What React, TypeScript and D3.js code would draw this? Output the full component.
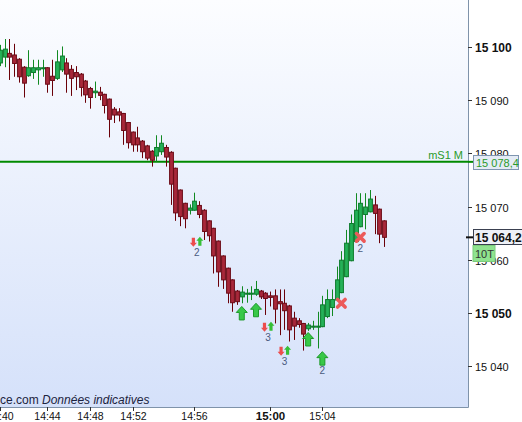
import React from 'react';
import * as d3 from 'd3';

// candle data, one entry per bar (10 ticks each)
const opens = [
  15097.0, 15098.1, 15098.8, 15098.5, 15097.7, 15096.2, 15094.6, 15095.2, 15095.7, 15095.9,
  15096.1, 15094.5, 15094.1, 15095.7, 15097.0, 15095.8, 15095.2, 15094.9, 15093.6, 15092.2,
  15091.4, 15091.5, 15091.1, 15090.2, 15088.3, 15087.8, 15087.5, 15085.8, 15084.0, 15082.9,
  15082.3, 15081.4, 15080.4, 15079.5, 15080.3, 15081.1, 15080.2, 15077.2, 15073.1, 15070.6,
  15069.3, 15069.3, 15070.2, 15069.3, 15067.3, 15065.9, 15063.5, 15060.7, 15058.4, 15056.2,
  15054.1, 15053.0, 15053.5, 15053.5, 15053.5, 15054.1, 15053.7, 15053.2, 15053.2, 15052.1,
  15051.8, 15051.3, 15049.0, 15048.5, 15048.0, 15047.0, 15047.3, 15047.3, 15047.4, 15049.3,
  15051.0, 15052.4, 15053.8, 15056.8, 15059.8, 15063.4, 15066.2, 15068.5, 15069.0, 15070.3,
  15069.5, 15067.3,
];
const closes = [
  15099.4, 15099.6, 15098.1, 15096.9, 15094.4, 15093.2, 15096.1, 15096.1, 15096.1, 15096.1,
  15093.0, 15093.7, 15097.2, 15098.3, 15094.9, 15094.1, 15094.4, 15092.4, 15091.0, 15090.5,
  15091.7, 15090.9, 15089.0, 15086.4, 15087.2, 15087.2, 15084.3, 15082.0, 15081.6, 15081.6,
  15080.3, 15079.1, 15078.7, 15081.1, 15081.9, 15079.3, 15074.2, 15068.8, 15068.1, 15067.7,
  15069.7, 15071.0, 15068.5, 15065.3, 15064.5, 15060.7, 15057.7, 15056.2, 15053.7, 15051.9,
  15052.1, 15053.9, 15053.7, 15053.7, 15054.4, 15053.0, 15052.7, 15052.9, 15050.7, 15051.7,
  15050.4, 15046.8, 15047.5, 15047.8, 15046.0, 15047.7, 15047.5, 15047.5, 15051.5, 15052.5,
  15052.5, 15056.2, 15059.9, 15063.1, 15066.8, 15069.3, 15070.6, 15069.9, 15071.4, 15068.7,
  15064.8, 15064.2,
];
const highs = [
  15100.4, 15101.5, 15101.5, 15100.6, 15097.9, 15096.4, 15099.4, 15097.6, 15097.6, 15097.6,
  15096.2, 15097.6, 15099.4, 15100.1, 15097.9, 15096.6, 15096.4, 15095.1, 15093.8, 15092.5,
  15093.5, 15092.5, 15091.2, 15090.3, 15088.7, 15088.5, 15087.6, 15085.9, 15084.1, 15085.0,
  15082.5, 15081.6, 15080.6, 15083.4, 15083.4, 15081.6, 15080.4, 15077.3, 15073.2, 15070.7,
  15070.4, 15072.6, 15071.0, 15069.5, 15067.4, 15066.0, 15063.6, 15060.8, 15058.5, 15056.3,
  15054.3, 15055.0, 15054.5, 15055.0, 15056.0, 15054.3, 15053.9, 15054.0, 15054.4, 15054.4,
  15054.4, 15051.5, 15050.2, 15049.0, 15048.1, 15048.1, 15048.5, 15050.2, 15053.2, 15054.4,
  15054.4, 15058.7, 15061.6, 15065.6, 15068.5, 15072.5, 15072.5, 15072.5, 15073.1, 15072.0,
  15069.6, 15067.4,
];
const lows = [
  15096.4, 15096.2, 15093.8, 15094.4, 15093.3, 15090.5, 15094.4, 15094.0, 15092.9, 15094.4,
  15091.4, 15090.8, 15093.8, 15095.3, 15091.4, 15090.8, 15091.9, 15090.7, 15089.5, 15088.4,
  15090.4, 15090.0, 15087.5, 15083.0, 15085.7, 15086.0, 15081.6, 15080.9, 15080.3, 15080.3,
  15079.1, 15078.7, 15077.5, 15078.4, 15079.7, 15077.5, 15070.3, 15067.3, 15066.3, 15065.9,
  15068.5, 15069.2, 15067.8, 15063.7, 15063.4, 15057.4, 15054.9, 15054.5, 15051.8, 15050.2,
  15051.5, 15051.8, 15051.9, 15052.4, 15053.2, 15052.6, 15049.6, 15051.2, 15048.0, 15045.8,
  15046.8, 15044.6, 15044.9, 15047.2, 15042.9, 15046.6, 15046.8, 15043.3, 15047.3, 15049.0,
  15049.4, 15052.2, 15053.7, 15056.7, 15059.7, 15063.3, 15066.1, 15065.7, 15068.9, 15064.8,
  15063.1, 15062.4,
];

const yTicks = [15040, 15050, 15060, 15070, 15080, 15090, 15100];
const yTicksBold = [15050, 15100];
const xTickBars = [1, 11, 20, 29, 42, 58, 69];
const xTickLabels = ['14:40', '14:44', '14:48', '14:52', '14:56', '15:00', '15:04'];
const xTickBold = ['15:00'];

const levelValue = 15078.4;
const levelName = 'mS1 M';
const lastPrice = 15064.2;
const barUnit = '10T';

// signals
const bigArrowBars = [52, 55, 66, 69];
const bigArrowPrices = [15051.2, 15051.8, 15046.3, 15042.7];
const bigArrowTexts = ['', '', '', '2'];
const pairBars = [42, 57, 60.5];
const pairPrices = [15064.3, 15048.3, 15043.8];
const pairTexts = ['2', '3', '3'];
const crossBars = [73, 77];
const crossPrices = [15051.8, 15064.2];
const crossTexts = ['', '2'];

const W = 522;
const H = 422;
const plotR = 468;
const plotB = 407;
const font = '"Liberation Sans", Arial, sans-serif';

const fr = d3.formatLocale({ decimal: ',', thousands: '\u00a0', grouping: [3], currency: ['', ''] });
const fmtInt = fr.format(',d');
const fmt1 = fr.format(',.1f');

export default function App() {
  const x = d3.scaleLinear().domain([1, 82]).range([0, 384]);
  const y = d3.scaleLinear().domain([15040, 15100]).range([366, 47]);

  const bodyW = 3.8;
  const bars = opens.map((o, k) => ({
    i: k + 1, o, c: closes[k], h: highs[k], l: lows[k], up: closes[k] >= o,
  }));

  const bigArrow = 'M0,0 L5.5,6 L2.5,6 L2.5,13.5 L-2.5,13.5 L-2.5,6 L-5.5,6 Z';
  const smallUp = 'M0,0 L3.5,4 L1.6,4 L1.6,9 L-1.6,9 L-1.6,4 L-3.5,4 Z';
  const smallDown = 'M0,9 L3.5,5 L1.6,5 L1.6,0 L-1.6,0 L-1.6,5 L-3.5,5 Z';

  const yLevel = y(levelValue);
  const yLast = y(lastPrice);

  return (
    <div style={{ position: 'fixed', left: 0, top: 0, width: W, height: H, background: '#fff' }}>
      <svg width={W} height={H} style={{ display: 'block' }} fontFamily={font}>
        <defs>
          <linearGradient id="bg" x1="0" y1="0" x2="0" y2="1">
            <stop offset="0" stopColor="#fcfdff" />
            <stop offset="1" stopColor="#d5e1fa" />
          </linearGradient>
          <clipPath id="plot">
            <rect x={0} y={0} width={plotR} height={plotB} />
          </clipPath>
        </defs>
        <rect x={0} y={0} width={plotR} height={plotB} fill="url(#bg)" />

        <text x={0} y={404} fontSize={12} fill="#1c2440">
          ce.com <tspan fontStyle="italic">Données indicatives</tspan>
        </text>

        <g clipPath="url(#plot)">
          <line x1={0} x2={plotR} y1={yLevel} y2={yLevel} stroke="#008a00" strokeWidth={2} />

          {bars.map(b => {
            const cx = Math.round(x(b.i)) + 0.5;
            const top = y(Math.max(b.o, b.c));
            const bot = y(Math.min(b.o, b.c));
            return (
              <g key={b.i}>
                <line x1={cx} x2={cx} y1={y(b.h)} y2={y(b.l)}
                  stroke={b.up ? '#118a22' : '#6a0008'} strokeWidth={1} />
                <rect x={cx - bodyW / 2} y={top} width={bodyW} height={Math.max(1, bot - top)}
                  fill={b.up ? '#25b158' : '#a8283a'} stroke={b.up ? '#0c7a2a' : '#6a0a16'} strokeWidth={1} />
              </g>
            );
          })}

          {bigArrowBars.map((i, k) => (
            <g key={'ba' + k} transform={`translate(${x(i)},${y(bigArrowPrices[k])})`}>
              <path d={bigArrow} fill="#38c848" stroke="#1d9a2a" strokeWidth={1} />
              {bigArrowTexts[k] && (
                <text x={0} y={22} fontSize={10} textAnchor="middle" fill="#4a5a80">{bigArrowTexts[k]}</text>
              )}
            </g>
          ))}

          {pairBars.map((i, k) => (
            <g key={'pa' + k} transform={`translate(${x(i)},${y(pairPrices[k])})`}>
              <path d={smallDown} transform="translate(-1,1)" fill="#ec4c4c" />
              <path d={smallUp} transform="translate(5.5,0)" fill="#36bf36" />
              <text x={2.5} y={19.5} fontSize={10} textAnchor="middle" fill="#4a5a80">{pairTexts[k]}</text>
            </g>
          ))}

          {crossBars.map((i, k) => (
            <g key={'cr' + k} transform={`translate(${x(i)},${y(crossPrices[k])})`}>
              <path d="M-3.8,-3.8 L3.8,3.8 M-3.8,3.8 L3.8,-3.8" stroke="#ec5a5a" strokeWidth={3.6} strokeLinecap="round" />
              {crossTexts[k] && (
                <text x={0} y={15} fontSize={10} textAnchor="middle" fill="#4a5a80">{crossTexts[k]}</text>
              )}
            </g>
          ))}

          <text x={463} y={159} fontSize={11} textAnchor="end" fill="#2a9a2a">{levelName}</text>
        </g>

        {/* axes */}
        <line x1={plotR + 0.5} x2={plotR + 0.5} y1={0} y2={plotB + 0.5} stroke="#7f93aa" />
        <line x1={0} x2={plotR + 0.5} y1={plotB + 0.5} y2={plotB + 0.5} stroke="#7f93aa" />

        {yTicks.map(t => {
          const bold = yTicksBold.includes(t);
          const ty = Math.round(y(t)) + 0.5;
          return (
            <g key={t}>
              <line x1={plotR} x2={plotR + 4} y1={ty} y2={ty} stroke="#333" />
              <text x={475} y={ty + 4} fontSize={bold ? 12 : 11} fontWeight={bold ? 'bold' : 'normal'} fill="#111">
                {fmtInt(t)}
              </text>
            </g>
          );
        })}

        {xTickBars.map((i, k) => {
          const bold = xTickBold.includes(xTickLabels[k]);
          const tx = Math.round(x(i)) + 0.5;
          return (
            <g key={i}>
              <line x1={tx} x2={tx} y1={plotB} y2={plotB + 4} stroke="#333" />
              <text x={tx} y={420} fontSize={bold ? 11.5 : 10.5} fontWeight={bold ? 'bold' : 'normal'}
                textAnchor="middle" fill="#111">
                {xTickLabels[k]}
              </text>
            </g>
          );
        })}

        {/* level box */}
        <line x1={plotR} x2={473} y1={yLevel} y2={yLevel} stroke="#008a00" strokeWidth={2} />
        <rect x={473.5} y={Math.round(yLevel) - 6.5} width={45} height={14} fill="#e4ebf5" stroke="#7f95b0" />
        <text x={476} y={Math.round(yLevel) + 4.5} fontSize={11} fill="#2a9a2a">{fmt1(levelValue)}</text>

        {/* last price box */}
        <line x1={466} x2={474} y1={yLast} y2={yLast} stroke="#111" strokeWidth={2} />
        <rect x={473.5} y={Math.round(yLast) - 7.5} width={56} height={15} fill="#eef1f7" stroke="#3a4050" />
        <text x={475} y={Math.round(yLast) + 4.5} fontSize={12} fontWeight="bold" fill="#111">{fmt1(lastPrice)}</text>

        <rect x={473} y={Math.round(yLast) + 8.5} width={22} height={16} fill="#8fe38f" stroke="#7acc7a" />
        <text x={475} y={Math.round(yLast) + 20.5} fontSize={11} fill="#333">{barUnit}</text>
      </svg>
    </div>
  );
}
